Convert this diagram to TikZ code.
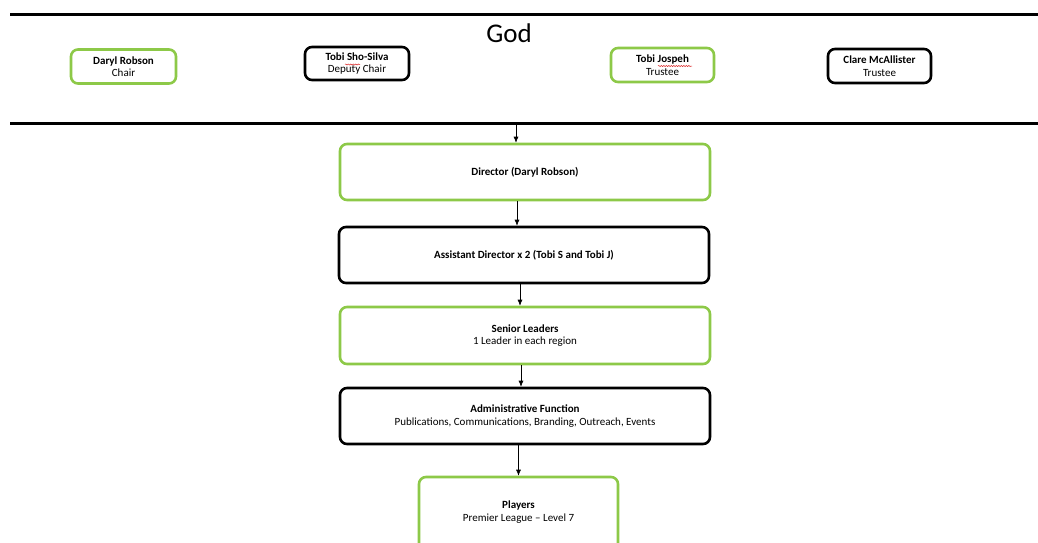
\documentclass[tikz,border=0pt]{standalone}
\usepackage{fontspec}
\setmainfont{Carlito}
\usetikzlibrary{arrows.meta,decorations.pathmorphing}
\definecolor{boxgreen}{RGB}{141,201,72}
\definecolor{squig}{RGB}{220,40,40}
\tikzset{
  box/.style={draw, line width=2.6pt, rounded corners=7pt, fill=white, align=center, inner sep=0pt, font=\fontsize{11}{12.5}\selectfont},
  gbox/.style={box, draw=boxgreen},
  kbox/.style={box, draw=black},
  rule/.style={line width=3pt, black},
  conn/.style={-{Latex[length=6pt,width=5pt]}, line width=0.6pt},
  wavy/.style={squig, line width=0.5pt, decorate, decoration={snake, amplitude=0.6pt, segment length=2.5pt}}
}
\begin{document}
\begin{tikzpicture}[x=1pt,y=-1pt]
\useasboundingbox (0,0) rectangle (1038,542);
\begin{scope}
\clip (0,0) rectangle (1038,542);
% rules
\coordinate (t1) at (10,14);
\coordinate (t2) at (1040,14);
\coordinate (b1) at (10,123);
\coordinate (b2) at (1040,123);
\draw[rule] (t1) -- (t2);
\draw[rule] (b1) -- (b2);
\node[font=\fontsize{27}{30}\selectfont] (god) at (509,33) {God};
% top row
\node[gbox, minimum width=105pt, minimum height=34pt] (daryl) at (123.5,66.5) {\textbf{Daryl Robson}\\Chair};
\node[kbox, minimum width=104pt, minimum height=33pt] (tobis) at (357,63.5) {\textbf{Tobi Sho-Silva}\\Deputy Chair};
\node[gbox, minimum width=103pt, minimum height=34pt] (tobij) at (662.5,65) {\textbf{Tobi Jospeh}\\Trustee};
\node[kbox, minimum width=103pt, minimum height=34pt] (clare) at (879.5,66) {\textbf{Clare McAllister}\\Trustee};
% spell-check squiggles
\draw[wavy] (345,64.5) -- (360,64.5);
\draw[wavy] (658,66) -- (692,66);
% main column
\node[gbox, minimum width=370pt, minimum height=56pt] (dir) at (525,172) {\textbf{Director (Daryl Robson)}};
\node[kbox, minimum width=370pt, minimum height=56pt] (asst) at (524,255) {\textbf{Assistant Director x 2 (Tobi S and Tobi J)}};
\node[gbox, minimum width=370pt, minimum height=57pt] (sen) at (525,335.5) {\textbf{Senior Leaders}\\1 Leader in each region};
\node[kbox, minimum width=370pt, minimum height=56pt] (adm) at (525,416) {\textbf{Administrative Function}\\Publications, Communications, Branding, Outreach, Events};
\node[gbox, minimum width=199pt, minimum height=86pt] (play) at (518.5,520) {};
\node[font=\fontsize{11}{12.5}\selectfont, align=center] (playtxt) at (518.5,512) {\textbf{Players}\\Premier League -- Level 7};
% connectors
\coordinate (a0) at (516,123);
\draw[conn] (a0) -- (a0 |- dir.north);
\draw[conn] ([xshift=-8pt]dir.south) -- ([xshift=-7pt]asst.north);
\draw[conn] ([xshift=-4pt]asst.south) -- ([xshift=-5pt]sen.north);
\draw[conn] ([xshift=-4pt]sen.south) -- ([xshift=-4pt]adm.north);
\draw[conn] (play.north |- adm.south) -- (play.north);
\end{scope}
\end{tikzpicture}
\end{document}
